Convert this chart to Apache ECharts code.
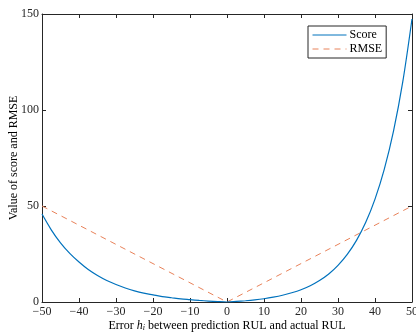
<!DOCTYPE html>
<html>
<head>
<meta charset="utf-8">
<script src="https://cdn.jsdelivr.net/npm/echarts@6/dist/echarts.min.js"></script>
<style>
  html, body { margin: 0; padding: 0; background: #fff; }
  #chart { width: 416px; height: 334px; }
</style>
</head>
<body>
<div id="chart"></div>
<script>
// Prediction error h (predicted RUL minus actual RUL)
const errorH = [-50, -47.5, -45, -42.5, -40, -37.5, -35, -32.5, -30, -27.5, -25, -22.5, -20, -17.5, -15, -12.5, -10, -7.5, -5, -2.5, 0,
                2.5, 5, 7.5, 10, 12.5, 15, 17.5, 20, 22.5, 25, 27.5, 30, 32.5, 35, 37.5, 40, 42.5, 45, 47.5, 50];
// Scoring-function value at each error
const scoreValues = [45.8, 37.6, 30.8, 25.3, 20.8, 16.9, 13.8, 11.2, 9.1, 7.3, 5.8, 4.6, 3.7, 2.8, 2.2, 1.6, 1.2, 0.8, 0.5, 0.2, 0,
                     0.3, 0.65, 1.1, 1.7, 2.5, 3.5, 4.8, 6.4, 8.5, 11.2, 14.6, 19.1, 24.8, 32.1, 41.5, 53.6, 69.1, 89.0, 114.6, 147.4];
// RMSE at the ends and at zero error
const rmseH = [-50, 0, 50];
const rmseValues = [50, 0, 50];
// Axis ticks
const xTicks = [-50, -40, -30, -20, -10, 0, 10, 20, 30, 40, 50];
const yTicks = [0, 50, 100, 150];

const seriesNames = ['Score', 'RMSE'];
const xTitle = 'Error {it|h}{sub|i} between prediction RUL and actual RUL';
const yTitle = 'Value of score and RMSE';

const FONT = 'Liberation Serif';
const INK = '#262626';

const chart = echarts.init(document.getElementById('chart'), null, { renderer: 'canvas' });

const xBase = {
  type: 'value', min: xTicks[0], max: xTicks[xTicks.length - 1], interval: 10,
  axisLine: { show: true, onZero: false, lineStyle: { color: INK, width: 1 } },
  axisTick: { show: true, inside: true, length: 4, lineStyle: { color: INK } },
  splitLine: { show: false }
};
const yBase = {
  type: 'value', min: yTicks[0], max: yTicks[yTicks.length - 1], interval: 50,
  axisLine: { show: true, onZero: false, lineStyle: { color: INK, width: 1 } },
  axisTick: { show: true, inside: true, length: 4, lineStyle: { color: INK } },
  splitLine: { show: false }
};

chart.setOption({
  animation: false,
  backgroundColor: '#fff',
  textStyle: { fontFamily: FONT },
  grid: { left: 42, right: 4, top: 14, bottom: 32, containLabel: false, outerBoundsMode: 'none' },
  legend: {
    orient: 'vertical', left: 308, top: 26,
    data: seriesNames,
    backgroundColor: '#fff',
    borderColor: INK, borderWidth: 1, borderRadius: 0,
    padding: [3, 4, 3, 4],
    itemWidth: 34, itemHeight: 10, itemGap: 2,
    itemStyle: { opacity: 0 },
    lineStyle: { width: 1 },
    textStyle: { fontFamily: FONT, fontSize: 12, color: '#000', padding: [0, 0, 0, -2] }
  },
  xAxis: [
    Object.assign({}, xBase, {
      position: 'bottom',
      name: xTitle, nameLocation: 'middle', nameGap: 18, nameMoveOverlap: false,
      nameTextStyle: {
        fontFamily: FONT, fontSize: 12, color: '#000',
        rich: {
          it: { fontFamily: FONT, fontSize: 12, fontStyle: 'italic', color: '#000' },
          sub: { fontFamily: FONT, fontSize: 8, fontStyle: 'italic', color: '#000', verticalAlign: 'bottom', padding: [4, 0, 0, 0] }
        }
      },
      axisLabel: { margin: 4, fontFamily: FONT, fontSize: 12, color: INK,
        formatter: v => (v < 0 ? '\u2212' + Math.abs(v) : String(v)) }
    }),
    Object.assign({}, xBase, { position: 'top', axisLabel: { show: false } })
  ],
  yAxis: [
    Object.assign({}, yBase, {
      position: 'left',
      name: yTitle, nameLocation: 'middle', nameGap: 22, nameMoveOverlap: false,
      nameTextStyle: { fontFamily: FONT, fontSize: 12, color: '#000' },
      axisLabel: { margin: 3, fontFamily: FONT, fontSize: 12, color: INK }
    }),
    Object.assign({}, yBase, { position: 'right', axisLabel: { show: false } })
  ],
  series: [
    {
      name: seriesNames[0], type: 'line', symbol: 'none',
      data: errorH.map((h, i) => [h, scoreValues[i]]),
      smooth: 0.3,
      lineStyle: { color: '#0072BD', width: 1.2 },
      itemStyle: { color: '#0072BD' },
      z: 3
    },
    {
      name: seriesNames[1], type: 'line', symbol: 'none',
      data: rmseH.map((h, i) => [h, rmseValues[i]]),
      lineStyle: { color: '#E8825A', width: 1, type: [6, 5] },
      itemStyle: { color: '#E8825A' },
      z: 2
    }
  ]
});
</script>
</body>
</html>
